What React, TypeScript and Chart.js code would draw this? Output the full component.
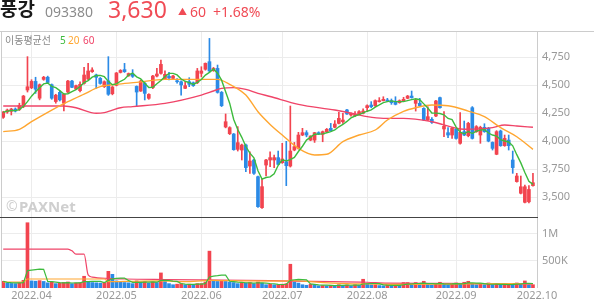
import React, { useEffect, useRef } from 'react';
import { Chart, registerables } from 'chart.js';

Chart.register(...registerables);

// ---- axis ticks ----
const monthTickDays = [7, 28, 49, 69, 90, 112, 132];
const monthTickLabels = ['2022.04', '2022.05', '2022.06', '2022.07', '2022.08', '2022.09', '2022.10'];
const priceTicks = [3500, 3750, 4000, 4250, 4500, 4750];
const volumeTicks = [500000, 1000000];
const volumeTickLabels = ['500K', '1M'];

// ---- daily candles (2022-03-23 .. 2022-09-30) ----
const opens = [
  4214, 4262, 4268, 4288, 4285, 4309, 4458,
  4478, 4535, 4385, 4553, 4572, 4505, 4355, 4437, 4340, 4440, 4538, 4467, 4452, 4517, 4556, 4622, 4592, 4562, 4488, 4540, 4425,
  4500, 4615, 4640, 4585, 4600, 4490, 4449, 4517, 4384, 4479, 4583, 4607, 4560, 4580, 4562, 4541, 4532, 4473, 4532, 4523, 4523,
  4607, 4643, 4711, 4631, 4651, 4437, 4128, 4068, 4065, 3928, 3922, 3967, 3779, 3833, 3684, 3407, 3788, 3833, 3833, 3854,
  3809, 3818, 3779, 3922, 3937, 4056, 4077, 4011, 4011, 4077, 4062, 4086, 4116, 4125, 4160, 4175, 4280, 4235, 4229, 4241, 4250,
  4300, 4324, 4318, 4354, 4363, 4369, 4363, 4354, 4345, 4363, 4384, 4404, 4339, 4339, 4294, 4190, 4196, 4226, 4390, 4110, 4077, 4056,
  4110, 3982, 4086, 4050, 4300, 4086, 4056, 4125, 4116, 3990, 3884, 4092, 3961, 4011, 3833, 3640, 3536, 3455, 3460, 3604,
];
const highs = [
  4268, 4288, 4295, 4298, 4340, 4410, 4756,
  4550, 4572, 4512, 4580, 4582, 4512, 4420, 4450, 4425, 4545, 4545, 4503, 4530, 4660, 4696, 4657, 4600, 4570, 4540, 4756, 4490,
  4615, 4640, 4696, 4610, 4640, 4495, 4545, 4530, 4425, 4590, 4651, 4726, 4630, 4615, 4590, 4560, 4540, 4532, 4568, 4530, 4651,
  4666, 4700, 4919, 4660, 4681, 4445, 4244, 4130, 4070, 4131, 3975, 3975, 3907, 3840, 3690, 3669, 3840, 3907, 3878, 3913,
  3982, 4000, 4315, 3990, 4080, 4116, 4095, 4050, 4080, 4085, 4092, 4115, 4160, 4185, 4258, 4250, 4285, 4255, 4265, 4275, 4290,
  4325, 4354, 4370, 4390, 4398, 4384, 4378, 4398, 4370, 4393, 4410, 4449, 4375, 4384, 4300, 4309, 4211, 4365, 4395, 4265, 4122, 4125,
  4115, 4256, 4181, 4170, 4310, 4140, 4135, 4157, 4125, 3995, 4095, 4100, 4056, 4056, 3913, 3714, 3690, 3610, 3604, 3714,
];
const lows = [
  4205, 4250, 4235, 4262, 4275, 4300, 4440,
  4470, 4428, 4370, 4545, 4520, 4375, 4340, 4360, 4272, 4435, 4478, 4460, 4440, 4510, 4550, 4615, 4473, 4510, 4480, 4410, 4415,
  4495, 4610, 4615, 4580, 4570, 4315, 4445, 4369, 4375, 4470, 4575, 4600, 4555, 4548, 4555, 4520, 4413, 4470, 4488, 4490, 4515,
  4575, 4635, 4620, 4625, 4430, 4310, 4120, 4060, 3920, 3913, 3833, 3729, 3714, 3705, 3410, 3400, 3690, 3773, 3764, 3790,
  3803, 3604, 3770, 3915, 3930, 4050, 4040, 4005, 3990, 4060, 3996, 4080, 4090, 4120, 4155, 4160, 4240, 4225, 4220, 4235, 4245,
  4265, 4300, 4310, 4350, 4360, 4355, 4330, 4325, 4340, 4360, 4380, 4385, 4270, 4310, 4185, 4185, 4160, 4220, 4295, 4041, 4032, 4026,
  4020, 3975, 4050, 4040, 4020, 4080, 3982, 4080, 3995, 3922, 3880, 3955, 3955, 3922, 3714, 3635, 3530, 3450, 3450, 3600,
];
const closes = [
  4259, 4279, 4288, 4270, 4320, 4404, 4487,
  4535, 4465, 4505, 4572, 4525, 4385, 4412, 4370, 4420, 4538, 4482, 4497, 4509, 4592, 4628, 4637, 4571, 4517, 4532, 4420, 4485,
  4610, 4633, 4622, 4605, 4580, 4440, 4538, 4428, 4419, 4583, 4601, 4687, 4598, 4565, 4583, 4532, 4503, 4497, 4509, 4497, 4628,
  4628, 4696, 4628, 4651, 4437, 4318, 4175, 4122, 3925, 3988, 3967, 3765, 3824, 3714, 3416, 3595, 3833, 3854, 3854, 3794,
  3842, 3782, 3913, 3952, 4056, 4077, 4056, 4047, 4077, 4065, 4086, 4107, 4095, 4154, 4205, 4190, 4244, 4250, 4240, 4265, 4270,
  4318, 4309, 4363, 4363, 4375, 4360, 4345, 4330, 4363, 4375, 4404, 4390, 4369, 4318, 4190, 4220, 4169, 4360, 4300, 4134, 4056, 4116,
  4026, 4080, 4056, 4160, 4026, 4131, 4125, 4086, 4002, 3937, 4086, 3961, 4026, 3961, 3765, 3690, 3594, 3594, 3570, 3630,
];
// volume in thousands of shares
const volumesK = [
  123, 86, 84, 80, 92, 140, 1195,
  130, 125, 135, 120, 95, 110, 80, 90, 100, 110, 80, 90, 95, 215, 110, 100, 95, 90, 100, 305, 250,
  130, 110, 100, 95, 80, 130, 110, 120, 90, 110, 100, 276, 120, 80, 60, 70, 80, 60, 70, 60, 80,
  80, 110, 675, 140, 120, 130, 120, 110, 100, 80, 100, 90, 100, 80, 110, 90, 60, 70, 60, 60,
  70, 80, 435, 110, 90, 60, 50, 70, 60, 40, 45, 40, 50, 45, 60, 50, 55, 40, 60, 50, 160,
  80, 60, 60, 45, 40, 50, 45, 55, 50, 100, 100, 60, 100, 60, 123, 70, 60, 70, 105, 70, 60, 70,
  92, 80, 105, 123, 80, 60, 70, 60, 92, 60, 65, 55, 60, 75, 70, 92, 70, 129, 60, 60,
];

// ---- moving-average lines (day index, value) ----
const ma20Days = [0, 4, 7, 12, 16, 20, 24, 28, 33, 40, 49, 53, 56, 60, 63, 66, 69, 73, 77, 80, 84, 88, 92, 95, 99, 102, 106, 110, 115, 119, 123, 127, 131];
const ma20Values = [4086, 4107, 4175, 4279, 4354, 4422, 4488, 4509, 4526, 4553, 4553, 4553, 4509, 4413, 4264, 4151, 4056, 3937, 3878, 3884, 3997, 4056, 4101, 4190, 4268, 4300, 4324, 4318, 4270, 4220, 4122, 4041, 3928];
const ma60Days = [0, 15, 18, 23, 25, 27, 29, 32, 40, 49, 52, 54, 57, 60, 63, 66, 73, 82, 87, 90, 94, 99, 106, 114, 121, 124, 127, 131];
const ma60Values = [4315, 4315, 4300, 4250, 4256, 4279, 4300, 4310, 4339, 4413, 4449, 4473, 4479, 4464, 4428, 4400, 4330, 4279, 4244, 4220, 4205, 4205, 4175, 4107, 4122, 4145, 4137, 4125];
const volMa20Days = [0, 5, 6, 25, 26, 30, 39, 45, 51, 60, 70, 71, 75, 85, 90, 100, 110, 120, 131];
const volMa20K = [110, 110, 165, 165, 115, 120, 130, 115, 140, 130, 125, 140, 120, 80, 75, 65, 72, 80, 78];
const volMa60Days = [0, 16, 17, 18, 20, 21, 22, 26, 30, 40, 50, 60, 66, 72, 81, 90, 95, 110, 120, 131];
const volMa60K = [711, 711, 680, 620, 620, 240, 200, 175, 165, 155, 148, 142, 135, 125, 118, 105, 90, 85, 78, 72];

const UP = '#f2444f';
const DOWN = '#2b8ae6';
const MA5C = '#3dbb3d';
const MA20C = '#ffa630';
const MA60C = '#f04468';
const GRID = '#ececec';
const FONT = "'Noto Sans', 'Noto Sans CJK KR', sans-serif";

function movingAverage(values: number[], n: number): number[] {
  return values.map((_, i) => {
    const w = values.slice(Math.max(0, i - n + 1), i + 1);
    return w.reduce((a, b) => a + b, 0) / w.length;
  });
}

const framePlugin = {
  id: 'frame',
  afterDraw(chart: any) {
    const { ctx, chartArea } = chart;
    const yv = chart.scales.yv;
    ctx.save();
    ctx.lineWidth = 1;
    ctx.strokeStyle = '#cccccc';
    ctx.beginPath();
    ctx.moveTo(0, 0.5);
    ctx.lineTo(chart.width, 0.5);
    ctx.moveTo(chartArea.left - 0.5, 0);
    ctx.lineTo(chartArea.left - 0.5, chartArea.bottom);
    ctx.moveTo(Math.round(chartArea.right) + 0.5, 0);
    ctx.lineTo(Math.round(chartArea.right) + 0.5, chartArea.bottom);
    ctx.stroke();
    ctx.strokeStyle = '#444444';
    ctx.beginPath();
    const sy = Math.round(yv.top) + 0.5;
    ctx.moveTo(0, sy);
    ctx.lineTo(chartArea.right + 1, sy);
    ctx.stroke();
    ctx.restore();
  },
};

export default function App() {
  const ref = useRef<HTMLCanvasElement>(null);

  useEffect(() => {
    document.body.style.margin = '0';
    const canvas = ref.current!;
    const days = closes.map((_, i) => i);
    const candleColors = days.map((i) => (closes[i] >= opens[i] ? UP : DOWN));
    const volumes = volumesK.map((v) => v * 1000);
    const volColors = volumes.map((v, i) => (i === 0 || v >= volumes[i - 1] ? UP : DOWN));
    const ma5 = movingAverage(closes, 5);
    const volMa5 = movingAverage(volumes, 5);
    const pts = (xs: number[], ys: number[]) => xs.map((x, k) => ({ x, y: ys[k] }));

    const lineBase = { type: 'line', pointRadius: 0, fill: false, order: 0 };

    const chart = new Chart(canvas, {
      type: 'bar',
      data: {
        datasets: [
          { ...lineBase, data: pts(days, ma5), borderColor: MA5C, borderWidth: 1.4, yAxisID: 'y' },
          { ...lineBase, data: pts(ma20Days, ma20Values), borderColor: MA20C, borderWidth: 1.4, cubicInterpolationMode: 'monotone', yAxisID: 'y' },
          { ...lineBase, data: pts(ma60Days, ma60Values), borderColor: MA60C, borderWidth: 1.4, cubicInterpolationMode: 'monotone', yAxisID: 'y' },
          { ...lineBase, data: pts(days, volMa5), borderColor: MA5C, borderWidth: 1.2, yAxisID: 'yv' },
          { ...lineBase, data: pts(volMa20Days, volMa20K.map((v) => v * 1000)), borderColor: MA20C, borderWidth: 1.2, cubicInterpolationMode: 'monotone', yAxisID: 'yv' },
          { ...lineBase, data: pts(volMa60Days, volMa60K.map((v) => v * 1000)), borderColor: MA60C, borderWidth: 1.2, cubicInterpolationMode: 'monotone', yAxisID: 'yv' },
          {
            type: 'bar',
            data: days.map((i) => ({ x: i, y: [lows[i], highs[i]] })),
            backgroundColor: candleColors,
            barThickness: 1,
            grouped: false,
            yAxisID: 'y',
            order: 2,
          },
          {
            type: 'bar',
            data: days.map((i) => ({ x: i, y: [opens[i], closes[i]] })),
            backgroundColor: candleColors,
            barThickness: 3,
            minBarLength: 1,
            grouped: false,
            yAxisID: 'y',
            order: 1,
          },
          {
            type: 'bar',
            data: days.map((i) => ({ x: i, y: volumes[i] })),
            backgroundColor: volColors,
            barThickness: 3,
            grouped: false,
            yAxisID: 'yv',
            order: 1,
          },
        ] as any,
      },
      options: {
        animation: false,
        responsive: false,
        devicePixelRatio: 1,
        events: [],
        layout: { padding: { left: 2, right: 0, top: 0, bottom: 0 } },
        plugins: { legend: { display: false }, tooltip: { enabled: false } },
        scales: {
          x: {
            type: 'linear',
            offset: false,
            min: -0.3,
            max: 132,
            afterBuildTicks: (s: any) => {
              s.ticks = monthTickDays.map((v) => ({ value: v }));
            },
            afterFit: (s: any) => {
              s.height = 16;
              s.paddingLeft = 0;
              s.paddingRight = 0;
            },
            ticks: {
              autoSkip: false,
              maxRotation: 0,
              padding: 1,
              color: '#999',
              font: { family: FONT, size: 11 },
              callback: (_v: any, i: number) => monthTickLabels[i],
            },
            grid: { color: GRID, drawTicks: false, offset: false },
            border: { display: false },
          },
          y: {
            type: 'linear',
            position: 'right',
            stack: 'panes',
            stackWeight: 186,
            min: 3324,
            max: 4985,
            afterBuildTicks: (s: any) => {
              s.ticks = priceTicks.map((v) => ({ value: v }));
            },
            afterFit: (s: any) => {
              s.width = 57;
              s.paddingTop = 0;
              s.paddingBottom = 0;
            },
            ticks: {
              padding: 5,
              color: '#999',
              font: { family: FONT, size: 11 },
              callback: (v: any) => Number(v).toLocaleString('en-US'),
            },
            grid: { color: GRID, drawTicks: false },
            border: { display: false },
          },
          yv: {
            type: 'linear',
            position: 'right',
            stack: 'panes',
            stackWeight: 71,
            min: 0,
            max: 1300000,
            afterBuildTicks: (s: any) => {
              s.ticks = volumeTicks.map((v) => ({ value: v }));
            },
            afterFit: (s: any) => {
              s.width = 57;
              s.paddingTop = 0;
              s.paddingBottom = 0;
            },
            ticks: {
              padding: 5,
              color: '#999',
              font: { family: FONT, size: 11 },
              callback: (_v: any, i: number) => volumeTickLabels[i],
            },
            grid: { color: GRID, drawTicks: false },
            border: { display: false },
          },
        } as any,
      },
      plugins: [framePlugin],
    } as any);

    return () => chart.destroy();
  }, []);

  return (
    <div style={{ position: 'fixed', left: 0, top: 0, width: 594, height: 304, background: '#fff', overflow: 'hidden' }}>
      <canvas ref={ref} width={594} height={273} style={{ position: 'absolute', left: 0, top: 31, width: 594, height: 273 }} />
      <svg width={594} height={304} style={{ position: 'absolute', left: 0, top: 0, pointerEvents: 'none' }} fontFamily={FONT}>
        <text x={0} y={16} fontSize={19} fontWeight={700} fill="#1a1a1a" fontFamily="'Noto Sans CJK KR', sans-serif">풍강</text>
        <text x={45} y={17} fontSize={14} fill="#8c8c8c">093380</text>
        <text x={108} y={18} fontSize={23} fill="#f04b55">3,630</text>
        <text x={178} y={15} fontSize={9} fill="#f04b55">▲</text>
        <text x={190} y={17} fontSize={14} fill="#f04b55">60</text>
        <text x={213} y={17} fontSize={14} fill="#f04b55">+1.68%</text>
        <text x={5} y={44} fontSize={10} fill="#888" fontFamily="'Noto Sans CJK KR', sans-serif">이동평균선</text>
        <text x={60} y={44} fontSize={10} fill={MA5C}>5</text>
        <text x={68} y={44} fontSize={10} fill={MA20C}>20</text>
        <text x={83} y={44} fontSize={10} fill={MA60C}>60</text>
        <text x={6} y={211} fontSize={14} fill="#cfcfcf">©</text>
        <text x={19} y={211.5} fontSize={15} fontWeight={700} fill="#cfcfcf">PAXNet</text>
      </svg>
    </div>
  );
}
